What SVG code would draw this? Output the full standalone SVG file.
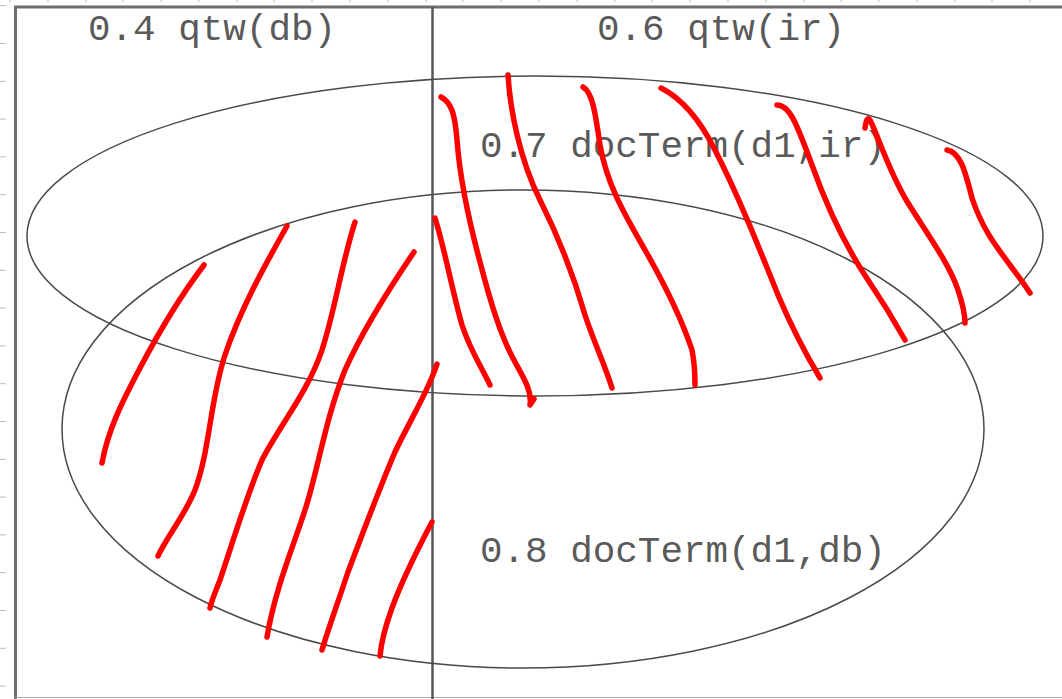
<svg xmlns="http://www.w3.org/2000/svg" width="1062" height="699" viewBox="0 0 1062 699">
<style>
.tick{stroke:#bbbbbb;stroke-width:1}
.frame{stroke:#6e6e6e;fill:none}
.ell{fill:none;stroke:#4a4a4a;stroke-width:1.5}
.lbl{font-family:"Liberation Mono","Courier New",monospace;font-size:37.6px;fill:#5a5a5a}
.red{fill:none;stroke:#ff0000;stroke-width:5.5;stroke-linecap:round;stroke-linejoin:round}
</style>
<rect width="1062" height="699" fill="#ffffff"/>
<g id="ticks">
<path class="tick" d="M0 5.7H6M0 43.5H6M0 81.3H6M0 119.1H6M0 156.9H6M0 194.7H6M0 232.5H6M0 270.3H6M0 308.1H6M0 345.9H6M0 383.7H6M0 421.5H6M0 459.3H6M0 497.1H6M0 534.9H6M0 572.7H6M0 610.5H6M0 648.3H6M0 686.1H6"/>
<path class="tick" d="M10 0V2M48 0V2M86 0V2M123 0V2M161 0V2M199 0V2M237 0V2M274 0V2M312 0V2M350 0V2M388 0V2M426 0V2M463 0V2M501 0V2M539 0V2M577 0V2M615 0V2M652 0V2M690 0V2M728 0V2M766 0V2M804 0V2M841 0V2M879 0V2M917 0V2M955 0V2M992 0V2M1030 0V2"/>
</g>
<g id="frame">
<path class="frame" stroke-width="3" d="M15.5 699V7H1062"/>
<path stroke="#aaaaaa" stroke-width="1.2" d="M15 697.5H1062"/>
<path stroke="#555" stroke-width="2.5" d="M432.5 7V699"/>
</g>
<g id="set-ir">
<ellipse class="ell" cx="535" cy="236" rx="508" ry="160"/>
</g>
<g id="set-db">
<ellipse class="ell" cx="523" cy="429" rx="461" ry="239"/>
</g>
<g id="labels">
<text class="lbl" x="88" y="40">0.4 qtw(db)</text>
<text class="lbl" x="597" y="40">0.6 qtw(ir)</text>
<text class="lbl" x="480" y="157">0.7 docTerm(d1,ir)</text>
<text class="lbl" x="480" y="562">0.8 docTerm(d1,db)</text>
</g>
<g id="hatching">
<path class="red" d="M204 265 C185 290 160 330 140 368 C122 402 108 430 102 463"/>
<path class="red" d="M287 226 C265 265 240 310 225 355 C210 400 210 450 195 490 C185 515 168 535 158 556"/>
<path class="red" d="M355 222 C342 262 335 310 322 350 C308 392 280 425 262 460 C245 500 232 545 220 580 C214 595 211 602 210 608"/>
<path class="red" d="M414 252 C395 280 365 325 345 370 C325 420 318 470 305 510 C292 550 275 590 267 637"/>
<path class="red" d="M437 364 C428 392 410 420 395 452 C378 492 362 535 348 572 C336 608 328 630 322 650"/>
<path class="red" d="M432 522 C420 545 404 575 392 608 C384 630 381 645 380 656"/>
<path class="red" d="M435 218 C445 250 452 290 462 325 C470 350 482 368 490 385"/>
<path class="red" d="M441 97 C452 103 455 115 457 140 C460 180 470 225 480 262 C490 300 500 335 515 362 C525 380 532 392 530 405 L534 399"/>
<path class="red" d="M508 75 C510 110 520 160 540 200 C560 240 575 280 585 315 C595 345 605 365 612 388"/>
<path class="red" d="M583 87 C592 92 595 110 600 145 C607 185 625 215 645 250 C665 285 682 320 692 350 C695 365 695 375 695 385"/>
<path class="red" d="M661 88 C675 95 695 110 715 150 C738 195 758 245 778 295 C795 335 808 358 820 378"/>
<path class="red" d="M777 105 C790 105 797 125 812 165 C828 210 848 250 868 280 C885 305 895 322 905 340"/>
<path class="red" d="M865 128 C866 122 867 116 870 120 C878 135 888 170 908 203 C928 235 950 265 958 290 C963 305 965 315 965 323"/>
<path class="red" d="M947 150 C960 152 965 170 972 198 C982 228 995 245 1010 265 C1018 276 1025 285 1030 293"/>
</g>
</svg>
